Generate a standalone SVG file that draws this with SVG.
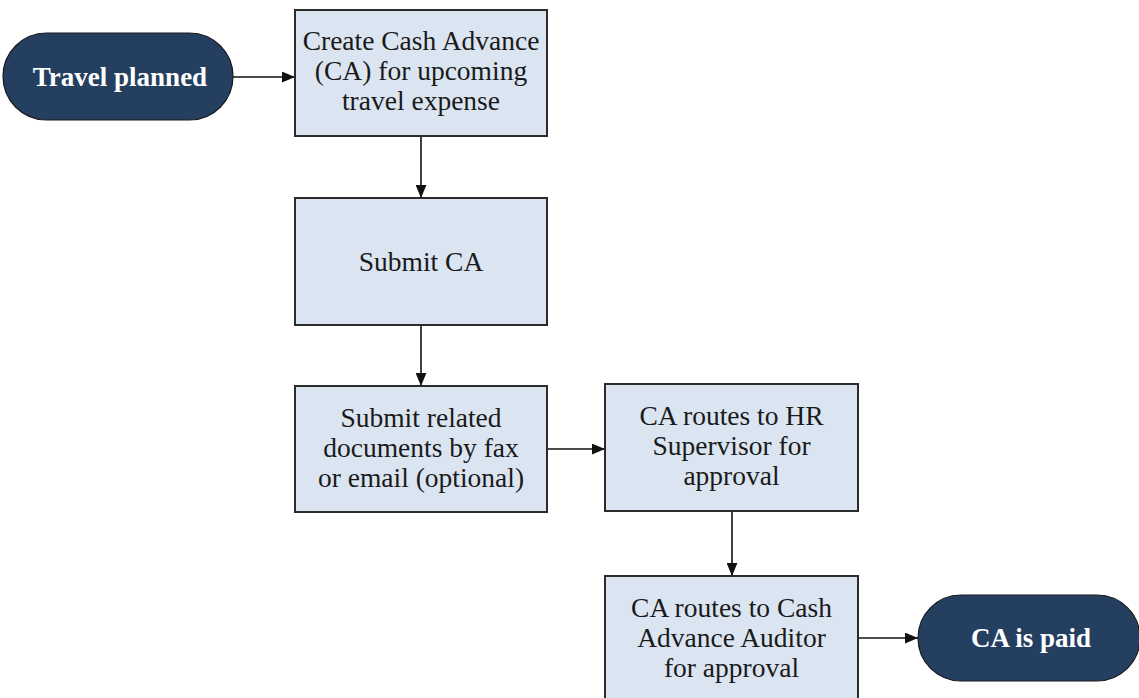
<svg xmlns="http://www.w3.org/2000/svg" width="1139" height="698" viewBox="0 0 1139 698">
<style>
.box{fill:#dbe5f1;stroke:#2b2b2b;stroke-width:2}
.pill{fill:#243f60;stroke:#1a1a1a;stroke-width:1.2}
.t{font-family:"Liberation Serif","Times New Roman",serif;font-size:27.5px;fill:#1a1a1a;text-anchor:middle}
.pt{font-family:"Liberation Serif","Times New Roman",serif;font-size:27px;font-weight:bold;fill:#ffffff;text-anchor:middle}
.c{stroke:#111;stroke-width:1.6;fill:none;marker-end:url(#ah)}
</style>
<defs>
<marker id="ah" viewBox="0 0 12 10" refX="12" refY="5" markerWidth="13" markerHeight="11" markerUnits="userSpaceOnUse" orient="auto">
<path d="M0,0 L12,5 L0,10 Z" fill="#111"/>
</marker>
</defs>
<rect width="1139" height="698" fill="#ffffff"/>
<g id="connectors">
<line class="c" x1="233" y1="77" x2="295" y2="77"/>
<line class="c" x1="421" y1="136" x2="421" y2="198"/>
<line class="c" x1="421" y1="325" x2="421" y2="386"/>
<line class="c" x1="547" y1="449" x2="605" y2="449"/>
<line class="c" x1="732" y1="511" x2="732" y2="576"/>
<line class="c" x1="858" y1="638" x2="918" y2="638"/>
</g>
<g id="travel-planned">
<rect class="pill" x="3" y="33" width="230" height="87" rx="43.5"/>
<text class="pt" x="120" y="86">Travel planned</text>
</g>
<g id="create-ca">
<rect class="box" x="295" y="10" width="252" height="126"/>
<text class="t" x="421" y="50">Create Cash Advance</text>
<text class="t" x="421" y="80">(CA) for upcoming</text>
<text class="t" x="421" y="110">travel expense</text>
</g>
<g id="submit-ca">
<rect class="box" x="295" y="198" width="252" height="127"/>
<text class="t" x="421" y="271">Submit CA</text>
</g>
<g id="submit-docs">
<rect class="box" x="295" y="386" width="252" height="126"/>
<text class="t" x="421" y="427">Submit related</text>
<text class="t" x="421" y="457">documents by fax</text>
<text class="t" x="421" y="487">or email (optional)</text>
</g>
<g id="hr-supervisor">
<rect class="box" x="605" y="384" width="253" height="127"/>
<text class="t" x="731.5" y="425">CA routes to HR</text>
<text class="t" x="731.5" y="455">Supervisor for</text>
<text class="t" x="731.5" y="485">approval</text>
</g>
<g id="auditor">
<rect class="box" x="605" y="576" width="253" height="127"/>
<text class="t" x="731.5" y="617">CA routes to Cash</text>
<text class="t" x="731.5" y="647">Advance Auditor</text>
<text class="t" x="731.5" y="677">for approval</text>
</g>
<g id="ca-paid">
<rect class="pill" x="918" y="595" width="222" height="86" rx="43"/>
<text class="pt" x="1031" y="647">CA is paid</text>
</g>
</svg>
